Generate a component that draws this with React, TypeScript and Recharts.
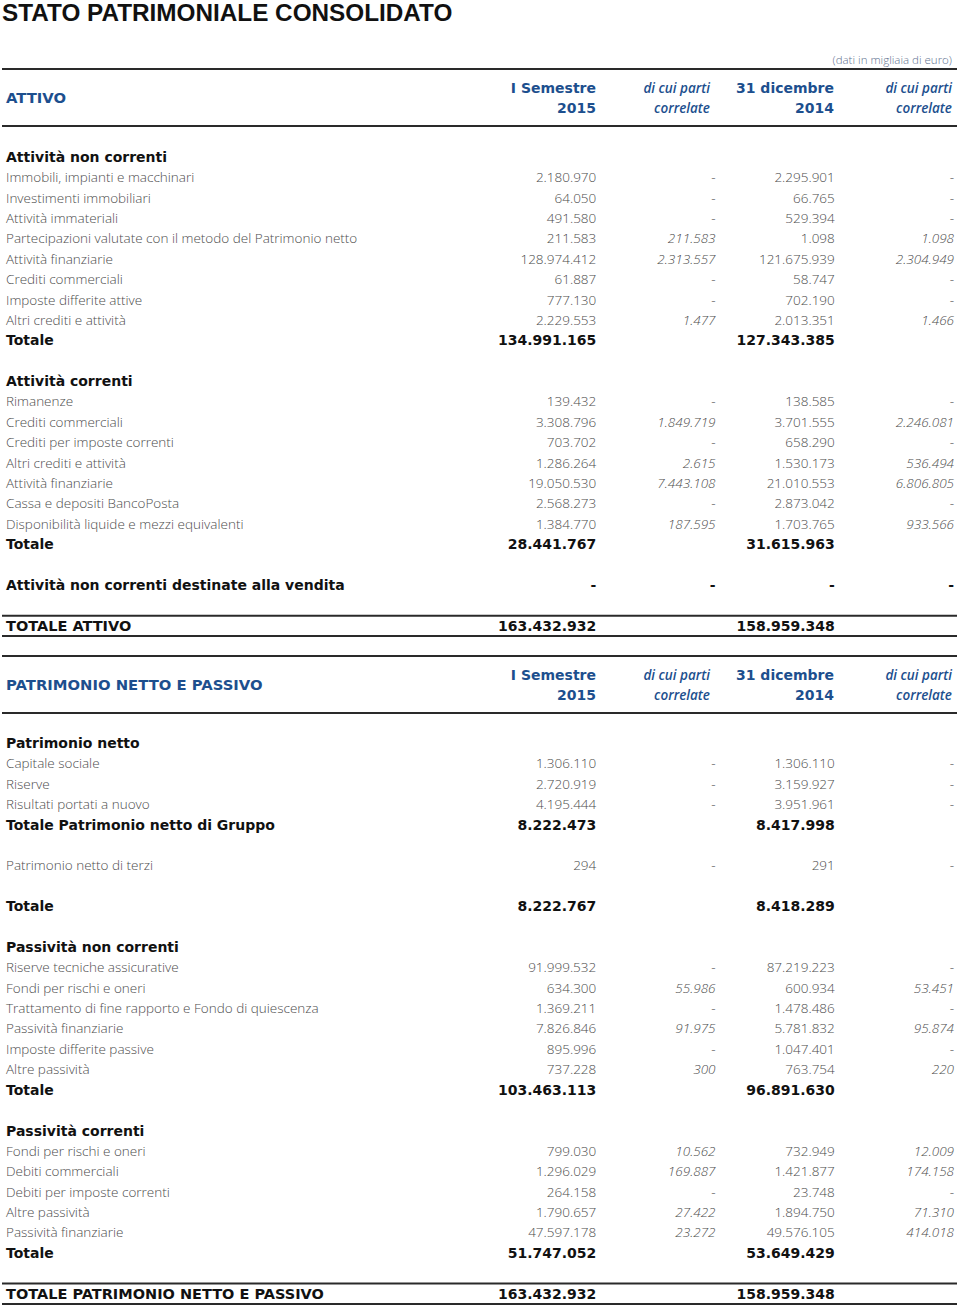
import React from "react";
import { ScatterChart, Scatter, XAxis, YAxis, ReferenceLine } from "recharts";

// h = section heading, r = plain row, t = subtotal, d = heading with values, b = blank, g = grand total
const attivoKinds = ["h", "r", "r", "r", "r", "r", "r", "r", "r", "t", "b", "h", "r", "r", "r", "r", "r", "r", "r", "t", "b", "d", "b", "g"];
const attivoLabels = [
  "Attività non correnti",
  "Immobili, impianti e macchinari",
  "Investimenti immobiliari",
  "Attività immateriali",
  "Partecipazioni valutate con il metodo del Patrimonio netto",
  "Attività finanziarie",
  "Crediti commerciali",
  "Imposte differite attive",
  "Altri crediti e attività",
  "Totale",
  "",
  "Attività correnti",
  "Rimanenze",
  "Crediti commerciali",
  "Crediti per imposte correnti",
  "Altri crediti e attività",
  "Attività finanziarie",
  "Cassa e depositi BancoPosta",
  "Disponibilità liquide e mezzi equivalenti",
  "Totale",
  "",
  "Attività non correnti destinate alla vendita",
  "",
  "TOTALE ATTIVO",
];
const attivoSem2015 = ["", "2.180.970", "64.050", "491.580", "211.583", "128.974.412", "61.887", "777.130", "2.229.553", "134.991.165", "", "", "139.432", "3.308.796", "703.702", "1.286.264", "19.050.530", "2.568.273", "1.384.770", "28.441.767", "", "-", "", "163.432.932"];
const attivoSemCorr = ["", "-", "-", "-", "211.583", "2.313.557", "-", "-", "1.477", "", "", "", "-", "1.849.719", "-", "2.615", "7.443.108", "-", "187.595", "", "", "-", "", ""];
const attivoDic2014 = ["", "2.295.901", "66.765", "529.394", "1.098", "121.675.939", "58.747", "702.190", "2.013.351", "127.343.385", "", "", "138.585", "3.701.555", "658.290", "1.530.173", "21.010.553", "2.873.042", "1.703.765", "31.615.963", "", "-", "", "158.959.348"];
const attivoDicCorr = ["", "-", "-", "-", "1.098", "2.304.949", "-", "-", "1.466", "", "", "", "-", "2.246.081", "-", "536.494", "6.806.805", "-", "933.566", "", "", "-", "", ""];

const passivoKinds = ["h", "r", "r", "r", "t", "b", "r", "b", "t", "b", "h", "r", "r", "r", "r", "r", "r", "t", "b", "h", "r", "r", "r", "r", "r", "t", "b", "g"];
const passivoLabels = [
  "Patrimonio netto",
  "Capitale sociale",
  "Riserve",
  "Risultati portati a nuovo",
  "Totale Patrimonio netto di Gruppo",
  "",
  "Patrimonio netto di terzi",
  "",
  "Totale",
  "",
  "Passività non correnti",
  "Riserve tecniche assicurative",
  "Fondi per rischi e oneri",
  "Trattamento di fine rapporto e Fondo di quiescenza",
  "Passività finanziarie",
  "Imposte differite passive",
  "Altre passività",
  "Totale",
  "",
  "Passività correnti",
  "Fondi per rischi e oneri",
  "Debiti commerciali",
  "Debiti per imposte correnti",
  "Altre passività",
  "Passività finanziarie",
  "Totale",
  "",
  "TOTALE PATRIMONIO NETTO E PASSIVO",
];
const passivoSem2015 = ["", "1.306.110", "2.720.919", "4.195.444", "8.222.473", "", "294", "", "8.222.767", "", "", "91.999.532", "634.300", "1.369.211", "7.826.846", "895.996", "737.228", "103.463.113", "", "", "799.030", "1.296.029", "264.158", "1.790.657", "47.597.178", "51.747.052", "", "163.432.932"];
const passivoSemCorr = ["", "-", "-", "-", "", "", "-", "", "", "", "", "-", "55.986", "-", "91.975", "-", "300", "", "", "", "10.562", "169.887", "-", "27.422", "23.272", "", "", ""];
const passivoDic2014 = ["", "1.306.110", "3.159.927", "3.951.961", "8.417.998", "", "291", "", "8.418.289", "", "", "87.219.223", "600.934", "1.478.486", "5.781.832", "1.047.401", "763.754", "96.891.630", "", "", "732.949", "1.421.877", "23.748", "1.894.750", "49.576.105", "53.649.429", "", "158.959.348"];
const passivoDicCorr = ["", "-", "-", "-", "", "", "-", "", "", "", "", "-", "53.451", "-", "95.874", "-", "220", "", "", "", "12.009", "174.158", "-", "71.310", "414.018", "", "", ""];

const headLine1 = ["I Semestre", "di cui parti", "31 dicembre", "di cui parti"];
const headLine2 = ["2015", "correlate", "2014", "correlate"];

const BLUE = "#1d4f8e";
const LIGHT_FONT = "'Open Sans', 'DejaVu Sans', sans-serif";
const BOLD_FONT = "'DejaVu Sans', Verdana, sans-serif";
const LIGHT_COLOR = "#4d4d4d";
const DARK = "#111";

const CHART_W = 960;
const AXIS_W = 478;
const RIGHT_PAD = 5;
const COL_HALF = (CHART_W - AXIS_W - RIGHT_PAD) / 8;
const HEAD_RIGHT = [596, 710, 834, 952];

type Cell = { row: number; col: number; text: string; kind: string };

function buildCells(kinds: string[], cols: string[][]): Cell[] {
  const cells: Cell[] = [];
  cols.forEach((values, col) =>
    values.forEach((text, row) => {
      if (text) cells.push({ row, col, text, kind: kinds[row] });
    })
  );
  return cells;
}

function CellText(props: any) {
  const { cx, cy, payload } = props;
  if (cx == null || cy == null) return null;
  const plain = payload.kind === "r";
  const italic = plain && payload.col % 2 === 1 && payload.text !== "-";
  return (
    <text
      x={cx + COL_HALF - 1}
      y={cy}
      dy="0.35em"
      textAnchor="end"
      fontFamily={plain ? LIGHT_FONT : BOLD_FONT}
      fontSize={plain ? 13.5 : 14}
      fontWeight={plain ? 300 : 700}
      fontStyle={italic ? "italic" : "normal"}
      fill={plain ? LIGHT_COLOR : DARK}
    >
      {payload.text}
    </text>
  );
}

function RowLabel(props: any) {
  const { y, payload, labels, kinds } = props;
  const i = payload.value as number;
  const label = labels[i];
  if (!label) return null;
  const plain = kinds[i] === "r";
  return (
    <text
      x={6}
      y={y}
      dy="0.35em"
      textAnchor="start"
      fontFamily={plain ? LIGHT_FONT : BOLD_FONT}
      fontSize={plain ? 13.5 : kinds[i] === "g" ? 14.5 : 14}
      fontWeight={plain ? 300 : 700}
      fill={plain ? LIGHT_COLOR : DARK}
    >
      {label}
    </text>
  );
}

function Rule({ y }: { y: number }) {
  return (
    <div style={{ position: "absolute", left: 2, width: 955, top: y - 1, height: 2, background: "#2a2a2a" }} />
  );
}

function SectionHeader({ top, title }: { top: number; title: string }) {
  return (
    <>
      <Rule y={top} />
      <div
        style={{
          position: "absolute",
          left: 6,
          top: top + 28.5 - 10,
          lineHeight: "20px",
          fontFamily: BOLD_FONT,
          fontWeight: 700,
          fontSize: 14.8,
          color: BLUE,
        }}
      >
        {title}
      </div>
      {headLine1.map((t, i) =>
        [t, headLine2[i]].map((s, k) => (
          <div
            key={`${i}-${k}`}
            style={{
              position: "absolute",
              right: 960 - HEAD_RIGHT[i],
              top: top + (k === 0 ? 19 : 38.5) - 10,
              lineHeight: "20px",
              whiteSpace: "nowrap",
              fontFamily: i % 2 === 0 ? BOLD_FONT : LIGHT_FONT,
              fontWeight: i % 2 === 0 ? 700 : 600,
              fontStyle: i % 2 === 0 ? "normal" : "italic",
              fontSize: i % 2 === 0 ? 14 : 13.5,
              color: BLUE,
            }}
          >
            {s}
          </div>
        ))
      )}
      <Rule y={top + 56.5} />
    </>
  );
}

function SectionBody({
  top,
  height,
  kinds,
  labels,
  cols,
}: {
  top: number;
  height: number;
  kinds: string[];
  labels: string[];
  cols: string[][];
}) {
  const n = labels.length;
  const rows = labels.map((_, i) => i);
  const cells = buildCells(kinds, cols);
  const grand = kinds.indexOf("g");
  return (
    <div style={{ position: "absolute", left: 0, top }}>
      <ScatterChart
        width={CHART_W}
        height={height + 3}
        margin={{ top: 0, right: RIGHT_PAD, bottom: 3, left: 0 }}
      >
        <XAxis type="number" dataKey="col" domain={[-0.5, 3.5]} hide />
        <YAxis
          type="number"
          dataKey="row"
          domain={[-0.5, n - 0.5]}
          reversed
          ticks={rows}
          interval={0}
          width={AXIS_W}
          axisLine={false}
          tickLine={false}
          tick={(p: any) => <RowLabel {...p} labels={labels} kinds={kinds} />}
        />
        {[grand - 0.5, grand + 0.5].map((y) => (
          <ReferenceLine
            key={y}
            y={y}
            stroke="#2a2a2a"
            strokeWidth={2}
            shape={(p: any) => (
              <line x1={2} x2={957} y1={p.y1} y2={p.y2} stroke="#2a2a2a" strokeWidth={2} />
            )}
          />
        ))}
        <Scatter data={cells} isAnimationActive={false} shape={(p: any) => <CellText {...p} />} />
      </ScatterChart>
    </div>
  );
}

export default function App() {
  return (
    <div
      style={{
        position: "absolute",
        left: 0,
        top: 0,
        width: 960,
        height: 1307,
        background: "#fff",
        overflow: "hidden",
      }}
    >
      <div
        style={{
          position: "absolute",
          left: 2,
          top: 2,
          lineHeight: "22px",
          fontFamily: "'Liberation Sans', Arial, sans-serif",
          fontWeight: 700,
          fontSize: 24.3,
          color: DARK,
          whiteSpace: "nowrap",
        }}
      >
        STATO PATRIMONIALE CONSOLIDATO
      </div>
      <div
        style={{
          position: "absolute",
          right: 8,
          top: 50,
          lineHeight: "20px",
          fontFamily: LIGHT_FONT,
          fontWeight: 300,
          fontSize: 11.5,
          color: "#5f7391",
        }}
      >
        (dati in migliaia di euro)
      </div>
      <SectionHeader top={69} title="ATTIVO" />
      <SectionBody
        top={147}
        height={489}
        kinds={attivoKinds}
        labels={attivoLabels}
        cols={[attivoSem2015, attivoSemCorr, attivoDic2014, attivoDicCorr]}
      />
      <SectionHeader top={656} title="PATRIMONIO NETTO E PASSIVO" />
      <SectionBody
        top={733}
        height={571}
        kinds={passivoKinds}
        labels={passivoLabels}
        cols={[passivoSem2015, passivoSemCorr, passivoDic2014, passivoDicCorr]}
      />
    </div>
  );
}
